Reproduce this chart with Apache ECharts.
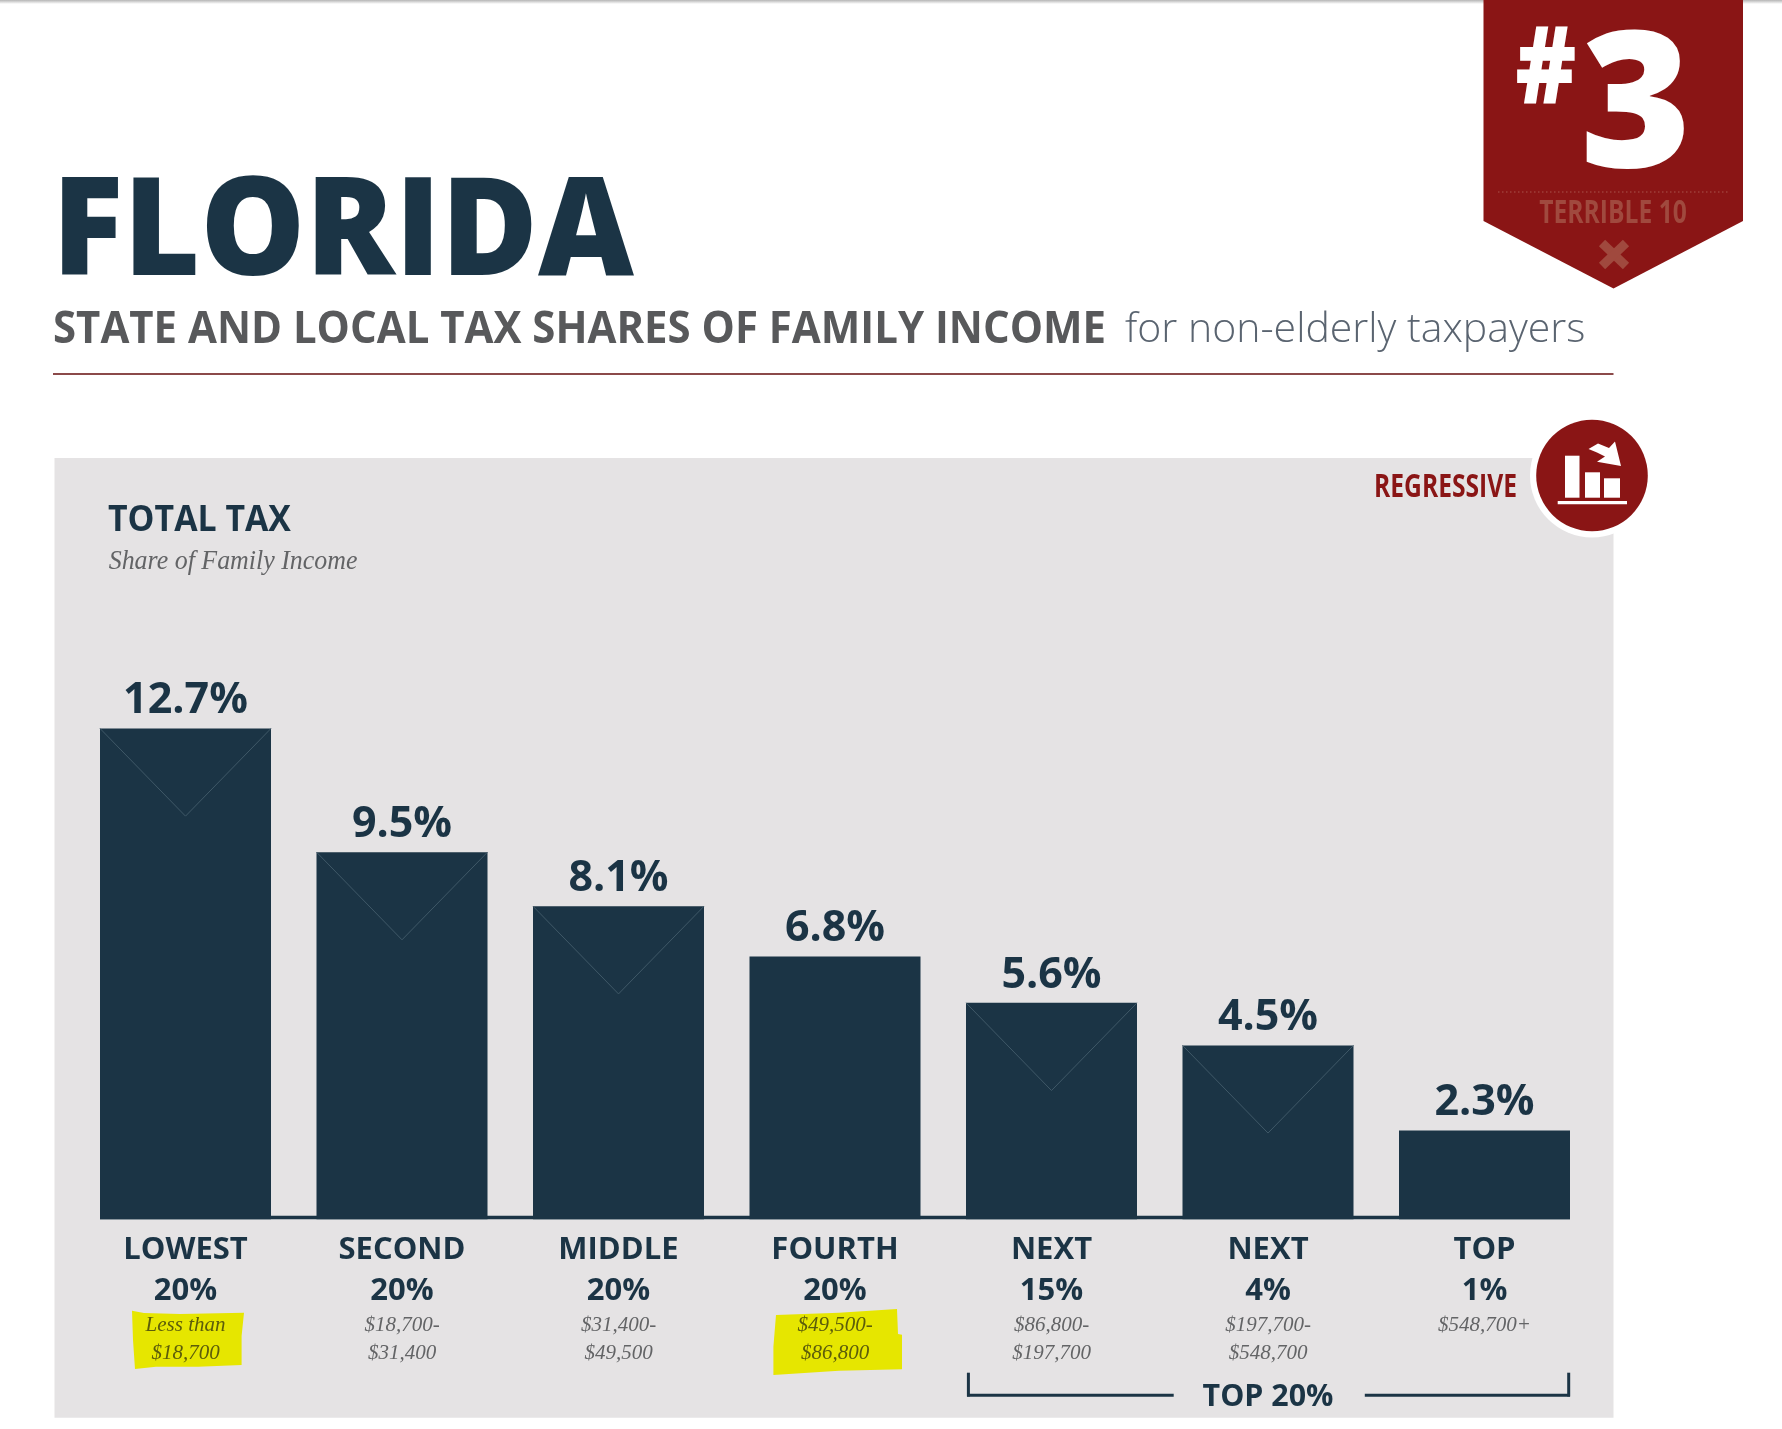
<!DOCTYPE html>
<html>
<head>
<meta charset="utf-8">
<title>Florida total tax</title>
<script src="https://cdn.jsdelivr.net/npm/echarts@6/dist/echarts.min.js"></script>
<style>
  html, body { margin: 0; padding: 0; background: #fff; }
  #chart { width: 1782px; height: 1429px; }
</style>
</head>
<body>
<div id="chart"></div>
<script>
// values
const groupNames = ['LOWEST', 'SECOND', 'MIDDLE', 'FOURTH', 'NEXT', 'NEXT', 'TOP'];
const groupShares = ['20%', '20%', '20%', '20%', '15%', '4%', '1%'];
const incomeRanges = [
    ['Less than', '$18,700'],
    ['$18,700-', '$31,400'],
    ['$31,400-', '$49,500'],
    ['$49,500-', '$86,800'],
    ['$86,800-', '$197,700'],
    ['$197,700-', '$548,700'],
    ['$548,700+']
];
const taxShares = [12.7, 9.5, 8.1, 6.8, 5.6, 4.5, 2.3];
const highlighted = [0, 3];
const foldedBars = [0, 1, 2, 4, 5];

const navy = '#1b3445';
const maroon = '#8a1515';
const grayText = '#58595b';
const faded = '#a0493e';
const sans = '"Open Sans", sans-serif';
const serif = '"Liberation Serif", serif';

let chart = echarts.init(document.getElementById('chart'), null, {renderer: 'canvas'});

function axisText(value, index) {
    let style = highlighted.indexOf(index) >= 0 ? 'rangeHi' : 'range';
    let lines = ['{name|' + groupNames[index] + '}', '{share|' + groupShares[index] + '}'];
    incomeRanges[index].forEach(function (r) {
        lines.push('{' + style + '|' + r + '}');
    });
    return lines.join('\n');
}

function text(x, y, str, font, fill, align, extra) {
    return Object.assign({
        type: 'text',
        x: x,
        y: y,
        z: 5,
        style: {text: str, font: font, fill: fill, align: align || 'left', verticalAlign: 'middle'}
    }, extra || {});
}

function rect(x, y, w, h, fill, z) {
    return {type: 'rect', z: z || 5, shape: {x: x, y: y, width: w, height: h}, style: {fill: fill}};
}

function poly(points, fill, z) {
    return {type: 'polygon', z: z || 5, shape: {points: points}, style: {fill: fill}};
}

function line(x1, y1, x2, y2, stroke, width, extra) {
    return {
        type: 'line',
        z: 5,
        shape: {x1: x1, y1: y1, x2: x2, y2: y2},
        style: Object.assign({stroke: stroke, lineWidth: width}, extra || {})
    };
}

let decorations = [
    // top edge shadow
    {
        type: 'rect', z: 1, shape: {x: 0, y: 0, width: 1782, height: 4},
        style: {fill: new echarts.graphic.LinearGradient(0, 0, 0, 1, [
            {offset: 0, color: '#b5b5b5'}, {offset: 1, color: '#ffffff'}
        ])}
    },
    // grey panel and the marker strokes
    rect(54.5, 458, 1559, 959.7, '#e5e3e4', -10),
    poly([[132, 1310.7], [144, 1313], [180, 1314], [244, 1312.7], [241.6, 1336], [241.6, 1365], [198, 1366.7], [156, 1366.7], [135, 1369], [133, 1340]], '#e6e600', -9),
    poly([[776, 1315], [839, 1312.7], [897, 1309], [898, 1334], [902, 1334.7], [902, 1369.3], [839, 1370.7], [773.4, 1375], [773.4, 1346.7]], '#e6e600', -9),

    // header
    text(52, 236, 'FLORIDA', '800 137px ' + sans, navy, 'left', {scaleX: 0.965}),
    text(53, 330, 'STATE AND LOCAL TAX SHARES OF FAMILY INCOME', '700 44px ' + sans, grayText, 'left', {scaleX: 0.953}),
    text(1125, 330, 'for non-elderly taxpayers', '300 41px ' + sans, '#5a6470'),
    rect(53, 373, 1560.5, 2, '#8b4a4a'),

    // ribbon
    poly([[1483.5, 0], [1743, 0], [1743, 221], [1613.5, 288.6], [1483.5, 221]], maroon),
    text(1546, 73, '#', '800 108px ' + sans, '#fff', 'center', {scaleX: 0.85}),
    text(1636, 113, '3', '800 190px ' + sans, '#fff', 'center'),
    line(1498, 192, 1730, 192, '#a8544c', 1, {lineDash: [1.5, 2.5]}),
    text(1613, 214, 'TERRIBLE 10', '700 32px ' + sans, faded, 'center', {scaleX: 0.77}),
    line(1602, 243, 1626, 266, faded, 9),
    line(1626, 243, 1602, 266, faded, 9),

    // regressive badge
    text(1374, 488, 'REGRESSIVE', '700 32px ' + sans, maroon, 'left', {scaleX: 0.77}),
    {type: 'circle', z: 5, shape: {cx: 1592, cy: 475.5, r: 62}, style: {fill: '#fff'}},
    {type: 'circle', z: 6, shape: {cx: 1592, cy: 475.5, r: 55.8}, style: {fill: maroon}},
    rect(1565, 455.7, 14.5, 42, '#fff', 7),
    rect(1585, 472.3, 15, 25.4, '#fff', 7),
    rect(1604, 478.3, 16, 19.4, '#fff', 7),
    rect(1557.7, 501, 69.3, 3.3, '#fff', 7),
    poly([[1588.5, 449], [1598, 443.5], [1609, 448], [1615, 441.5], [1621, 466], [1597, 461.7], [1605, 456.5], [1597, 452.5]], '#fff', 7),

    // panel heading
    text(108, 521, 'TOTAL TAX', '700 36px ' + sans, navy, 'left', {scaleX: 0.94}),
    text(108.7, 562, 'Share of Family Income', 'italic 27px ' + serif, '#636466', 'left', {scaleX: 0.96}),

    // baseline between the bars
    rect(100, 1215.7, 1470, 3.6, navy, 1),

    // top 20% bracket
    line(968.4, 1372.7, 968.4, 1396.5, navy, 3),
    line(967, 1395.2, 1173.7, 1395.2, navy, 3),
    line(1364.8, 1395.2, 1570, 1395.2, navy, 3),
    line(1568.7, 1372.7, 1568.7, 1396.5, navy, 3),
    text(1268, 1397, 'TOP 20%', '700 31px ' + sans, navy, 'center', {scaleX: 0.98})
];

let option = {
    animation: false,
    backgroundColor: '#fff',
    textStyle: {fontFamily: sans},
    grid: {left: 77.25, width: 1515.5, top: 678.2, height: 541.1, containLabel: false},
    xAxis: {
        type: 'category',
        data: groupNames.map(function (n, i) { return n + ' ' + groupShares[i]; }),
        axisLine: {show: false},
        axisTick: {show: false},
        axisLabel: {
            interval: 0,
            margin: 10,
            formatter: axisText,
            rich: {
                name: {fontFamily: sans, fontWeight: 700, fontSize: 31, color: navy, lineHeight: 42, align: 'center'},
                share: {fontFamily: sans, fontWeight: 700, fontSize: 31, color: navy, lineHeight: 40, align: 'center'},
                range: {fontFamily: serif, fontStyle: 'italic', fontSize: 21, color: '#636466', lineHeight: 28, align: 'center'},
                rangeHi: {fontFamily: serif, fontStyle: 'italic', fontSize: 21, color: '#5c5d0a', lineHeight: 28, align: 'center'}
            }
        }
    },
    yAxis: {type: 'value', min: 0, max: 14, show: false},
    series: [
        {
            type: 'bar',
            data: taxShares,
            barWidth: 171,
            itemStyle: {color: navy},
            label: {
                show: true,
                position: 'top',
                distance: 6,
                formatter: '{c}%',
                fontFamily: sans,
                fontWeight: 700,
                fontSize: 43,
                color: navy
            }
        },
        {
            // the faint V fold printed on some of the bars
            type: 'custom',
            z: 3,
            silent: true,
            data: foldedBars.map(function (i) { return [i, taxShares[i]]; }),
            encode: {x: 0, y: 1},
            renderItem: function (params, api) {
                let top = api.coord([api.value(0), api.value(1)]);
                let half = 85.5;
                return {
                    type: 'polyline',
                    shape: {points: [[top[0] - half, top[1]], [top[0], top[1] + 87.7], [top[0] + half, top[1]]]},
                    style: {fill: null, stroke: '#3f5867', lineWidth: 1}
                };
            }
        }
    ],
    graphic: {elements: decorations}
};
chart.setOption(option);

setTimeout(() => {
    window.onresize = function () {
        chart.resize();
    }
}, 200);
</script>
</body>
</html>
